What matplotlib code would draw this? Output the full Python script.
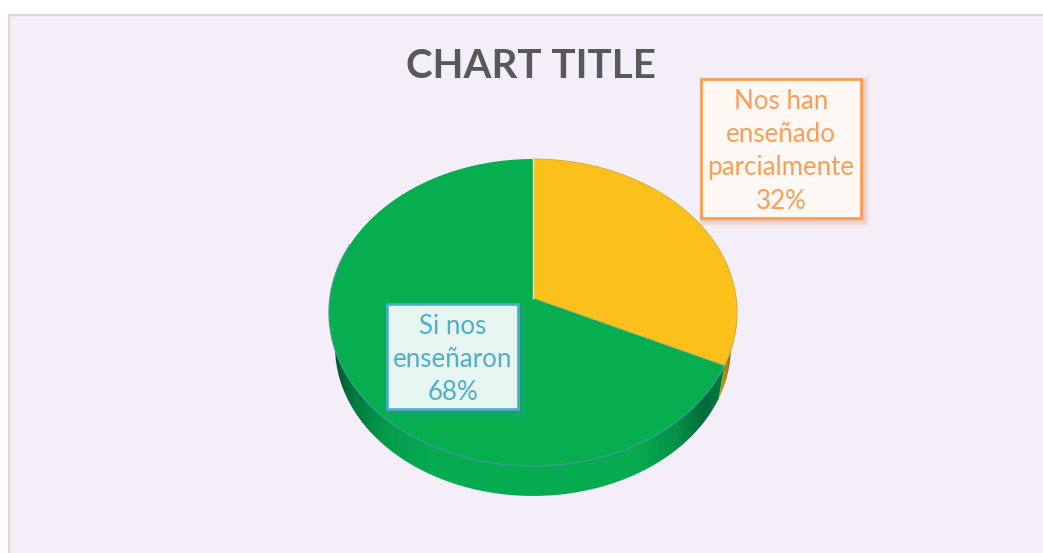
import matplotlib
matplotlib.use('Agg')
import matplotlib.pyplot as plt
from matplotlib.colors import LinearSegmentedColormap
from matplotlib.patches import Polygon, Rectangle
import numpy as np

plt.rcParams['font.family'] = ['Lato', 'DejaVu Sans']

title = 'CHART TITLE'
names = ['Nos han\nenseñado\nparcialmente', 'Si nos\nenseñaron']
values = [32, 68]
colors = ['#FBC11A', '#07AE50']

fig = plt.figure(figsize=(10.43, 5.53), dpi=100, facecolor='white')
ax = fig.add_axes([0, 0, 1, 1])
ax.axis('off')


def project(theta, drop=False):
    # tilted disc with perspective, theta is clockwise from the top
    u, v = np.sin(theta), np.cos(theta)
    w = 1 + 0.0945 * v
    x, y = 203.1 * u / w, -152.1 * v / w
    if drop:
        return 533 + 0.97 * x, 298 + 0.97 * y + 35
    return 533 + x, 298 + y


# panel
ax.add_patch(Rectangle((9, 14.5), 1040, 545, fc='#F3EEF7', ec='#DADADA', lw=1.6, zorder=1))

# slice angles from the values
edges = np.concatenate([[0], np.cumsum(values)]) / np.sum(values) * 2 * np.pi

# side wall, shaded left to right
wall_cmaps = [
    LinearSegmentedColormap.from_list('y', ['#E2AA14', '#A8831A', '#5E4E24']),
    LinearSegmentedColormap.from_list('g', [(0, '#00552E'), (0.05, '#007A3E'), (0.13, '#049C4C'),
                                            (0.25, '#07AB50'), (0.78, '#07AB50'), (0.88, '#058F48'),
                                            (0.95, '#006C3A'), (1, '#00803F')]),
]
wall_spans = [(716, 737), (334, 725)]
for i in range(2):
    th = np.linspace(edges[i], edges[i + 1], 300)
    xt, yt = project(th)
    xb, yb = project(th, drop=True)
    outline = np.column_stack([np.r_[xt, xb[::-1]], np.r_[yt, yb[::-1]]])
    clip = Polygon(outline, transform=ax.transData)
    im = ax.imshow(np.linspace(0, 1, 256)[None, :], cmap=wall_cmaps[i], aspect='auto',
                   extent=(wall_spans[i][0], wall_spans[i][1], 500, 300), zorder=2)
    im.set_clip_path(clip)

# top face
for i in range(2):
    th = np.linspace(edges[i], edges[i + 1], 300)
    xt, yt = project(th)
    ax.fill(np.r_[533, xt], np.r_[298, yt], color=colors[i], lw=0, zorder=3)

# rims and slice borders
th = np.linspace(edges[1], edges[2] - 1.2, 300)
ax.plot(*project(th), color='#3C9C96', lw=0.9, zorder=4)
th = np.linspace(edges[0], edges[1], 200)
ax.plot(*project(th), color='#D9B02E', lw=0.7, zorder=4)
xe, ye = project(edges[1])
ax.plot([533, xe], [298, ye], color='#9DB07A', lw=0.7, zorder=4)
xe, ye = project(0.0)
ax.plot([533, xe], [298, ye], color='#F7F3E6', lw=1.0, zorder=4)

ax.set_xlim(0, 1043)
ax.set_ylim(553, 0)

ax.text(531, 66, title, color='#595959', fontsize=29, fontweight='bold', ha='center', va='center', zorder=6)


def label_box(x0, y0, x1, y1, name, value, edge, face, text_color, shadow, text_x, first_y):
    # soft shadow out of stacked rectangles
    for grow in [5, 4, 3, 2, 1, 0]:
        ax.add_patch(Rectangle((x0 + 3 - grow, y0 + 3 - grow), x1 - x0 + 2 * grow, y1 - y0 + 2 * grow,
                               fc=shadow, ec='none', alpha=0.06, zorder=7))
    ax.add_patch(Rectangle((x0, y0), x1 - x0, y1 - y0, fc=face, ec=edge, lw=1.9, zorder=8))
    lines = (name + '\n' + str(value) + '%').split('\n')
    for n, line in enumerate(lines):
        ax.text(text_x, first_y + n * 33.2, line, color=text_color, fontsize=18.6,
                ha='center', va='center', zorder=9)


label_box(701, 79, 860.5, 218, names[0], values[0], '#FD9A4B', '#FEF8F5', '#FB9D55', '#E8743B', 781, 101.5)
label_box(387, 304, 518, 409, names[1], values[1], '#4EAEC9', '#E6F5F0', '#4FAFCB', '#3C8FB0', 453, 326)

fig.savefig('out.png', dpi=100, facecolor='white')
